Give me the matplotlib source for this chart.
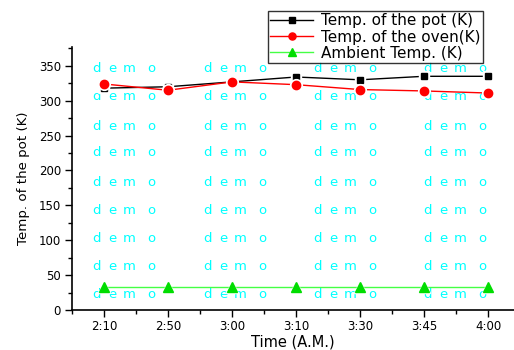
import matplotlib
matplotlib.use("Agg")
import matplotlib.pyplot as plt
from matplotlib.ticker import MultipleLocator

plt.rcParams['font.family'] = ['DejaVu Sans']

times = ["2:10", "2:50", "3:00", "3:10", "3:30", "3:45", "4:00"]
pot = [318, 320, 327, 334, 330, 335, 335]
oven = [324, 315, 327, 323, 316, 314, 311]
ambient = [33, 33, 33, 33, 33, 33, 33]

W, H = 514, 350
fig = plt.figure(figsize=(W / 100, H / 100), dpi=100)
ax = fig.add_axes([72 / W, 1 - 310 / H, (W - 72) / W, (310 - 47) / H])
ax.patch.set_alpha(0)

x = list(range(len(times)))
series = [
    (pot, 'black', 'black', 's', 5.0, 'Temp. of the pot (K)'),
    (oven, 'red', 'red', 'o', 6.0, 'Temp. of the oven(K)'),
    (ambient, '#44ff44', '#00dd00', '^', 6.5, 'Ambient Temp. (K)'),
]
handles = []
z = 3
for ys, lc, mc, mk, ms, lab in series:
    ax.plot(x, ys, color=lc, lw=1, zorder=z)
    ax.plot(x, ys, ls='none', marker=mk, ms=ms + 2.5, mfc='white', mec='white', zorder=z + 0.1)
    ax.plot(x, ys, ls='none', marker=mk, ms=ms, mfc=mc, mec=mc, zorder=z + 0.2)
    h, = ax.plot([], [], color=lc, lw=1, marker=mk, ms=ms * 0.85, mfc=mc, mec=mc, label=lab)
    handles.append(h)
    z += 1

ax.set_xlim(-0.5, (W - 104) / 64)
ax.set_ylim(0, 377)
ax.set_xticks(x)
ax.set_xticklabels(times)
ax.xaxis.set_minor_locator(MultipleLocator(0.5))
ax.yaxis.set_major_locator(MultipleLocator(50))
ax.yaxis.set_minor_locator(MultipleLocator(25))
ax.tick_params(which='major', direction='out', length=5, width=1, labelsize=8.5, pad=3)
ax.tick_params(axis='x', which='major', pad=2)
ax.tick_params(which='minor', direction='out', length=3, width=1)
ax.spines['top'].set_visible(False)
ax.spines['right'].set_visible(False)
ax.spines['left'].set_linewidth(1.2)
ax.spines['bottom'].set_linewidth(1.2)
ax.set_xlabel('Time (A.M.)', fontsize=10.5, labelpad=1)
ax.set_ylabel('Temp. of the pot (K)', fontsize=9.6, labelpad=6)

# watermark (behind the data)
offsets = [0, 16, 31, 55]
for cx in [92, 203, 313, 423]:
    for cy in [69, 97, 126, 153, 182, 210, 238, 267, 295]:
        for ch, dx in zip('demo', offsets):
            fig.text((cx + dx) / W, 1 - cy / H, ch, color='cyan', fontsize=9.5,
                     ha='left', va='center', zorder=-1)

leg = fig.legend(handles=handles, loc='upper left',
                 bbox_to_anchor=(268 / W, 1 - 11 / H), fontsize=11,
                 frameon=True, fancybox=False, edgecolor='black',
                 borderpad=0.15, labelspacing=0.08, handlelength=2.8,
                 handletextpad=0.5, borderaxespad=0)
leg.get_frame().set_linewidth(1)

fig.savefig('out.png', dpi=100)
